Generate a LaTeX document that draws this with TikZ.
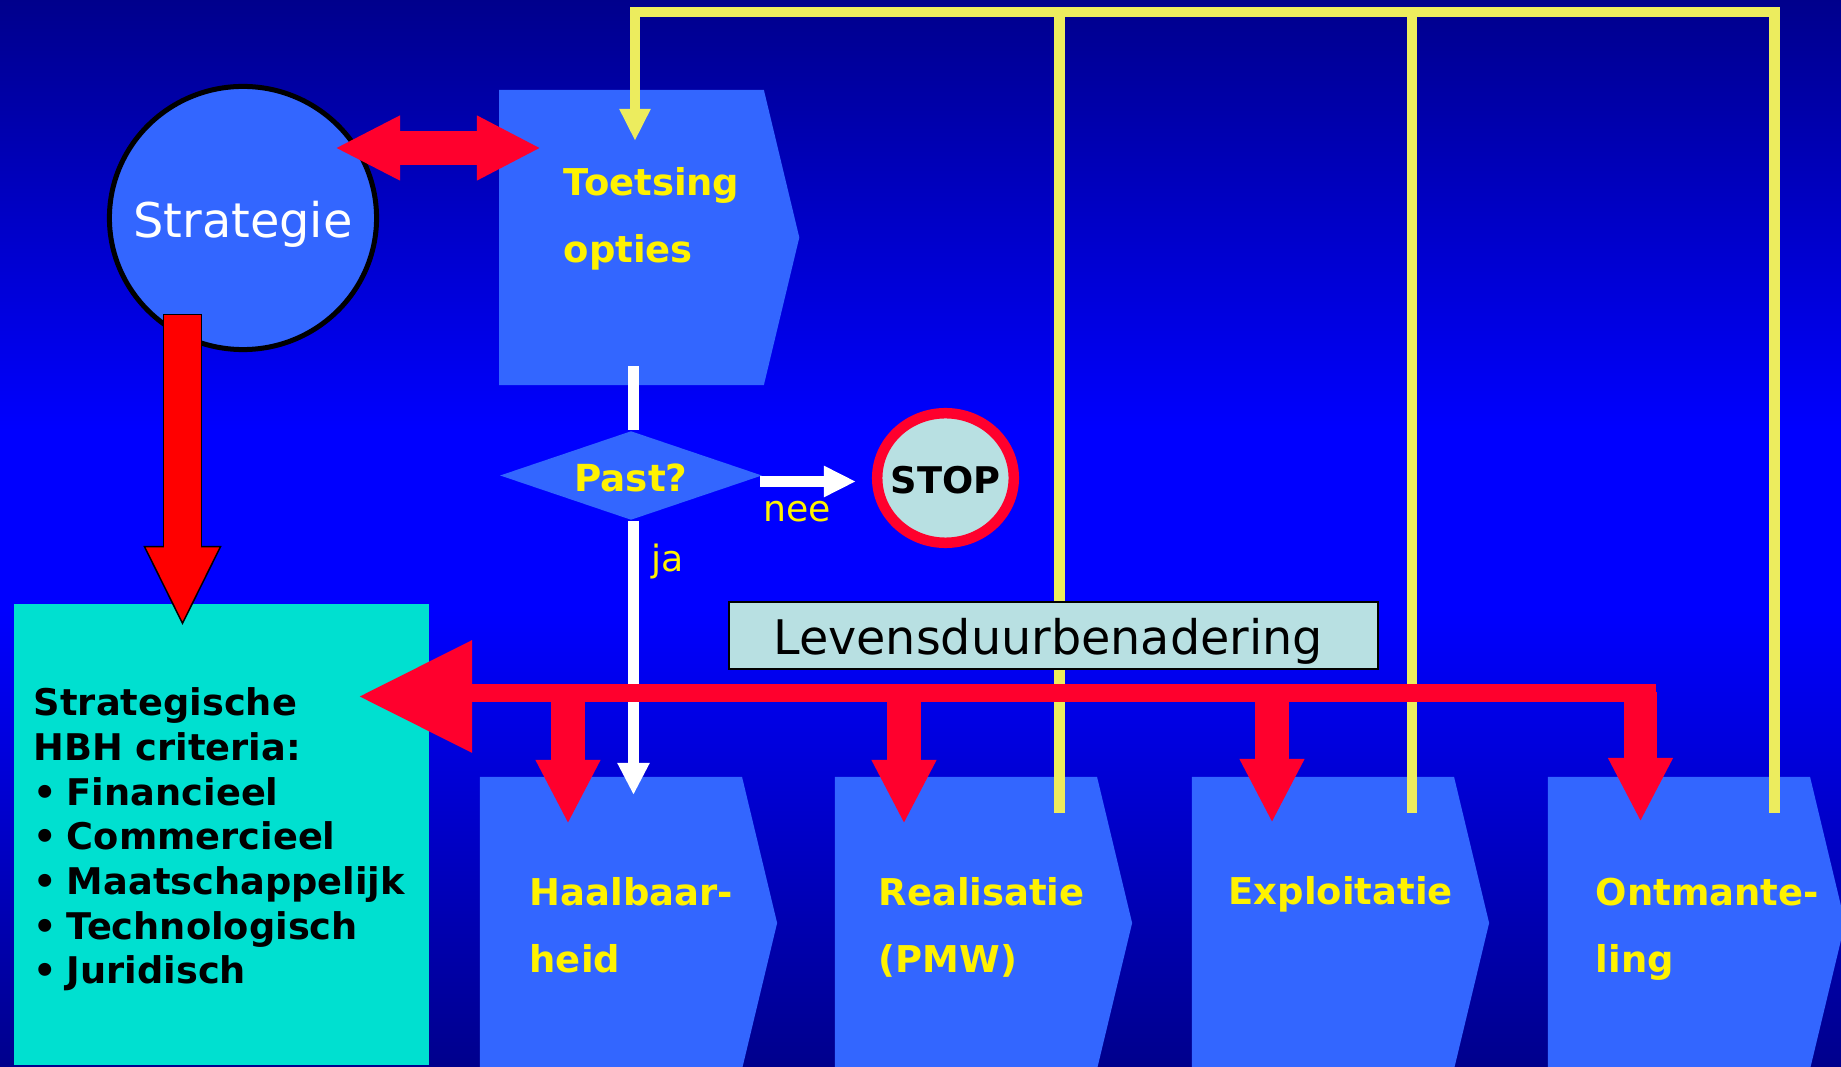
\documentclass[tikz,border=0pt]{standalone}
\usepackage{fontspec}
\setmainfont{DejaVu Sans}
\usepackage{tikz}
\usetikzlibrary{arrows.meta,positioning,shapes.geometric,shapes.symbols}
\definecolor{hbhnavy}{RGB}{0,0,140}
\definecolor{hbhblue}{RGB}{0,0,255}
\definecolor{hbhbox}{RGB}{51,102,255}
\definecolor{hbhred}{RGB}{255,0,45}
\definecolor{hbhyellow}{RGB}{236,236,94}
\definecolor{hbhteal}{RGB}{0,224,208}
\definecolor{hbhpale}{RGB}{184,224,226}
\tikzstyle{phase}=[signal,signal to=east,signal pointer angle=153,fill=hbhbox,inner sep=0pt,outer sep=0pt,minimum height=2.92cm,minimum width=2.97cm]
\tikzstyle{phasetext}=[anchor=base west,inner sep=0pt,text=yellow,align=left,font=\fontsize{10.5}{19.2}\selectfont\bfseries]
\tikzstyle{smalltext}=[anchor=base west,inner sep=0pt,text=yellow,font=\fontsize{10.3}{12}\selectfont]
\tikzstyle{redarrow}=[draw=hbhred,line width=.33cm,-{Triangle[length=.64cm,width=.6cm]}]
\tikzstyle{whiteline}=[draw=white,line width=.11cm]
\tikzstyle{yellowline}=[draw=hbhyellow,line width=.105cm]
\begin{document}
\begin{tikzpicture}[x=.01cm,y=-.01cm]
\useasboundingbox (0,0) rectangle (1841,1067);
\clip (0,0) rectangle (1841,1067);
\fill[hbhblue] (0,0) rectangle (1841,1067);
\shade[top color=hbhnavy,bottom color=hbhblue] (0,0) rectangle (1841,430);
\shade[top color=hbhblue,bottom color=hbhnavy] (0,610) rectangle (1841,1067);
\node [ellipse,draw=black,fill=hbhbox,line width=.05cm,inner sep=0pt,minimum width=2.67cm,minimum height=2.63cm,text=white,text height=.38cm,text depth=0pt,font=\fontsize{13.6}{16}\selectfont] (strategie) at (243,218) {\makebox[0pt]{Strategie}};
\node [phase,minimum width=3cm,minimum height=2.95cm] (toetsing) at (631.5,237.5) {};
\node [phase] (haal) at (611,923) {};
\node [phase] (real) at (966,923) {};
\node [phase] (expl) at (1323,923) {};
\node [phase] (ontm) at (1679,923) {};
\node [phasetext] (toetsingtext) at (563,263) {Toetsing\\opties};
\node [phasetext] (haaltext) at (529,973) {Haalbaar-\\heid};
\node [phasetext] (realtext) at (878,973) {Realisatie\\(PMW)};
\node [phasetext] (expltext) at (1228,905) {Exploitatie};
\node [phasetext] (ontmtext) at (1595,973) {Ontmante-\\ling};
\node [diamond,fill=hbhbox,inner sep=0pt,minimum width=2.62cm,minimum height=.89cm,text=yellow,text height=.32cm,text depth=0pt,font=\fontsize{10.6}{12}\selectfont\bfseries] (past) at (631,475.5) {\makebox[0pt]{Past?}};
\node [ellipse,draw=hbhred,fill=hbhpale,line width=.105cm,inner sep=0pt,minimum width=1.365cm,minimum height=1.295cm,text height=.3cm,text depth=0pt,font=\fontsize{10.45}{12}\selectfont\bfseries] (stopsign) at (945.5,478) {\makebox[0pt]{STOP}};
\node [rectangle,fill=hbhteal,inner sep=0pt,minimum width=4.15cm,minimum height=4.61cm,text width=3.75cm,align=left,font=\fontsize{10.45}{12.7}\selectfont\bfseries] (criteria) at (221.5,834.5) {\rule{0pt}{.38cm}Strategische\\HBH criteria:\\\textbullet\hspace{.095cm}Financieel\\\textbullet\hspace{.095cm}Commercieel\\\textbullet\hspace{.095cm}Maatschappelijk\\\textbullet\hspace{.095cm}Technologisch\\\textbullet\hspace{.095cm}Juridisch};
\node [smalltext] (nee) at (763,522) {nee};
\node [smalltext] (ja) at (651,571.5) {ja};
\coordinate (topleft) at (635,12);
\coordinate (toetsingin) at (635,141);
\coordinate (realout) at (1059.5,813);
\coordinate (explout) at (1412,813);
\coordinate (ontmout) at (1774.5,813);
\draw[yellowline,-{Triangle[length=.32cm,width=.29cm]}] (ontmout) |- (topleft) -- (toetsingin);
\draw[yellowline] (realout) -- (realout |- topleft);
\draw[yellowline] (explout) -- (explout |- topleft);
\node [rectangle,draw=black,fill=hbhpale,line width=.025cm,inner sep=0pt,minimum width=6.49cm,minimum height=.67cm,text width=5.6cm,align=left,text height=.37cm,text depth=0pt,font=\fontsize{13.55}{16}\selectfont] (levensduur) at (1053.5,635.5) {Levensduurbenadering};
\coordinate (toetsingout) at (633.5,366);
\coordinate (haalin) at (633.5,795);
\coordinate (neeout) at (760,481.5);
\coordinate (stopin) at (856,481.5);
\draw[whiteline] (toetsingout) -- (toetsingout |- past.north);
\draw[whiteline,-{Triangle[length=.32cm,width=.3cm]}] (haalin |- past.south) -- (haalin);
\draw[whiteline,-{Triangle[length=.32cm,width=.29cm]}] (neeout) -- (stopin);
\coordinate (strategieright) at (335,148);
\coordinate (toetsingleft) at (541,148);
\draw[redarrow,line width=.33cm,{Triangle[length=.65cm,width=.6cm]}-{Triangle[length=.64cm,width=.6cm]}] (strategieright) -- (toetsingleft);
\coordinate (strategieout) at (182.5,314);
\coordinate (criteriain) at (182.5,625);
\draw[draw=black,line width=.39cm,-{Triangle[length=.79cm,width=.78cm,fill=red,line width=.015cm]}] (strategieout) -- (criteriain);
\draw[draw=red,line width=.36cm,shorten <=.015cm,shorten >=.77cm] (strategieout) -- (criteriain);
\coordinate (busright) at (1656,693);
\coordinate (busleft) at (472,693);
\coordinate (bushead) at (472,696.5);
\coordinate (criteriaout) at (359,696.5);
\coordinate (dropone) at (568,692);
\coordinate (droptwo) at (904,692);
\coordinate (dropthree) at (1272,692);
\coordinate (dropfour) at (1640.5,692);
\coordinate (haaltip) at (568,824);
\coordinate (realtip) at (904,824);
\coordinate (expltip) at (1272,823);
\coordinate (ontmtip) at (1640.5,822);
\draw[draw=hbhred,line width=.17cm] (busright) -- (busleft);
\draw[draw=hbhred,line width=.17cm,-{Triangle[length=1.13cm,width=1.08cm]}] (bushead) -- (criteriaout);
\draw[redarrow] (dropone) -- (haaltip);
\draw[redarrow] (droptwo) -- (realtip);
\draw[redarrow] (dropthree) -- (expltip);
\draw[redarrow] (dropfour) -- (ontmtip);
\end{tikzpicture}
\end{document}
